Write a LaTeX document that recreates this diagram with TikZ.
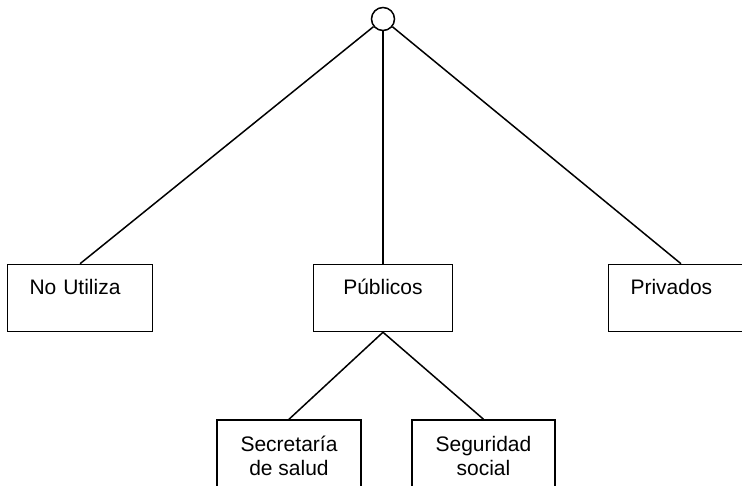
\documentclass[tikz,border=0pt]{standalone}
\usepackage{fontspec}
\setmainfont{Liberation Sans}
\usepackage{tikz}
\usetikzlibrary{positioning}

\begin{document}
\begin{tikzpicture}[
        x=1pt, y=1pt,
        every node/.style={font=\fontsize{21}{24}\selectfont},
        root/.style={draw, circle, minimum size=23pt, inner sep=0pt, line width=1.5pt},
        box/.style={draw, rectangle, line width=1.5pt, minimum width=#1, inner xsep=0pt, inner ysep=15pt, text height=15pt, text depth=22pt, align=center},
        box/.default=139pt,
        leftbox/.style={draw, rectangle, line width=1.5pt, text width=101pt, inner xsep=22pt, inner ysep=15pt, text height=15pt, text depth=22pt, align=left},
        lowbox/.style={draw, rectangle, line width=1.5pt, minimum width=#1, inner xsep=0pt, inner ysep=16pt, align=center},
        conn/.style={line width=1.5pt}
    ]
    \clip (0,0) rectangle (742,-486);

    % Root
    \node[root] (root) at (383,-19) {};

    % Services
    \node[box] (pub) [below=232.5pt of root] {Públicos};
    \node[leftbox] (nou) [left=159.5pt of pub] {No Utiliza};
    \node[leftbox] (priv) [right=154.5pt of pub] {Privados};

    % Public institutions
    \node[lowbox=144pt] (sec) [below=87pt of pub, xshift=-94pt] {Secretaría\\de salud};
    \node[lowbox=143pt] (seg) [below=87pt of pub, xshift=100.5pt] {Seguridad\\social};

    % Lines
    \draw[conn] (root) -- (nou.north);
    \draw[conn] (root) -- (pub);
    \draw[conn] (root) -- (priv.north);
    \draw[conn] (pub.south) -- (sec.north);
    \draw[conn] (pub.south) -- (seg.north);

\end{tikzpicture}
\end{document}
